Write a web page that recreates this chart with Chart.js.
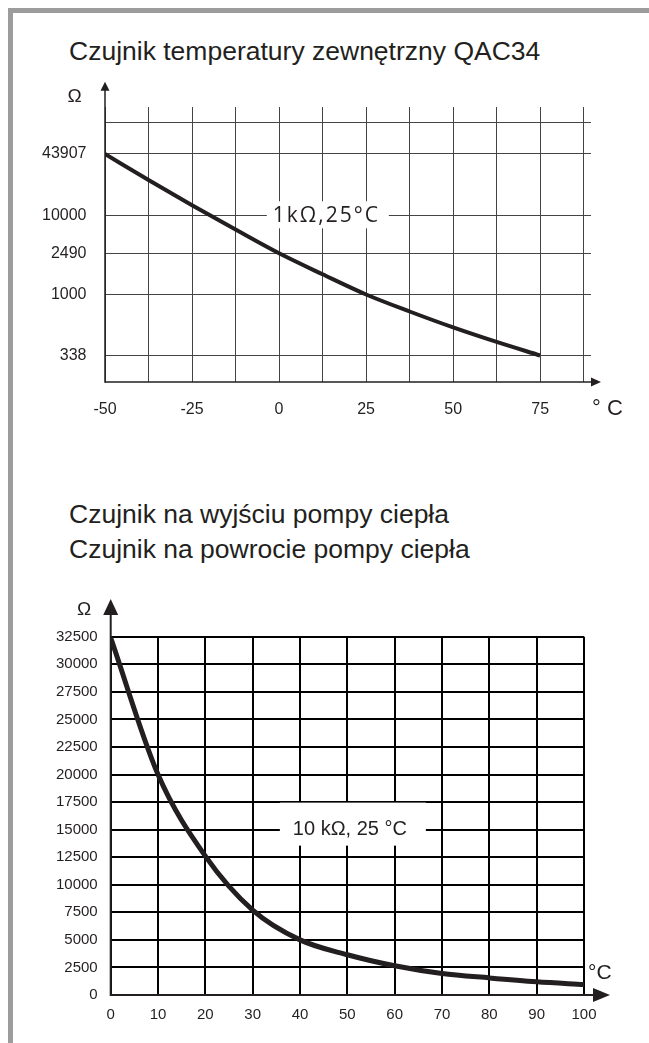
<!DOCTYPE html>
<html lang="pl">
<head>
<meta charset="utf-8">
<title>Charakterystyki czujników</title>
<script src="https://cdn.jsdelivr.net/npm/chart.js@4.4.1/dist/chart.umd.min.js"></script>
<style>
  html, body { margin: 0; padding: 0; background: #fff; }
  #page {
    position: relative; width: 649px; height: 1043px; overflow: hidden; background: #fff;
    font-family: "Liberation Sans", Arial, sans-serif; color: #231f20;
  }
  .frame-top  { position: absolute; left: 8px; top: 8px; width: 641px; height: 5px; background: #9c9c9c; }
  .frame-left { position: absolute; left: 8px; top: 8px; width: 5px; height: 1035px; background: #9c9c9c; }
  .title { position: absolute; left: 69px; font-size: 26.5px; line-height: 1; white-space: nowrap; }
  canvas { position: absolute; left: 0; }
</style>
</head>
<body>
<div id="page">
  <div class="frame-top"></div>
  <div class="frame-left"></div>
  <div class="title" style="top:37.6px">Czujnik temperatury zewnętrzny QAC34</div>
  <div class="title" style="top:501px">Czujnik na wyjściu pompy ciepła</div>
  <div class="title" style="top:535.6px">Czujnik na powrocie pompy ciepła</div>
  <canvas id="outdoor" width="649" height="370" style="top:70px"></canvas>
  <canvas id="flow" width="649" height="453" style="top:590px"></canvas>
</div>
<script>
// Outdoor sensor QAC34 (NTC, 1 kΩ at 25 °C)
const outdoorTemps = [-50, -37.5, -25, -12.5, 0, 12.5, 25, 37.5, 50, 62.5, 75];
const outdoorOhms = [43907, 23450, 12760, 5930, 2490, 1564, 1000, 739, 557, 430, 338];
const outdoorTickOhms = [338, 1000, 2490, 10000, 43907];
const outdoorTickTemps = [-50, -25, 0, 25, 50, 75];

// Flow / return sensors (NTC, 10 kΩ at 25 °C)
const flowTemps = [0, 10, 20, 30, 40, 50, 60, 70, 80, 90, 100];
const flowOhms = [32400, 20000, 12600, 7700, 5000, 3650, 2650, 1950, 1550, 1200, 950];

const ink = '#231f20';
const sans = '"Liberation Sans", Arial, sans-serif';

// Resistance axis whose labelled values sit at fixed heights; values between
// two labels are placed by logarithmic interpolation.
class AnchoredLogScale extends Chart.Scale {
  static id = 'anchoredLog';
  static defaults = {};
  determineDataLimits() {
    const o = this.options;
    this._stops = o.values.map((v, i) => ({ lv: Math.log10(v), at: o.levels[i] }));
    this.min = Math.min(...o.values);
    this.max = Math.max(...o.values);
  }
  buildTicks() {
    const o = this.options;
    const ticks = o.values.map((v, i) => ({ value: v, at: o.levels[i] }));
    (o.extraLevels || []).forEach(at => ticks.push({ value: NaN, at, blank: true }));
    return ticks;
  }
  generateTickLabels(ticks) {
    ticks.forEach(t => { t.label = t.blank ? '' : String(t.value); });
  }
  getPixelForTick(index) {
    const t = this.ticks[index];
    return t ? this.getPixelForDecimal(t.at) : null;
  }
  getPixelForValue(value) {
    const s = this._stops, lv = Math.log10(value);
    let i = 1;
    while (i < s.length - 1 && lv > s[i].lv) i++;
    const a = s[i - 1], b = s[i];
    return this.getPixelForDecimal(a.at + (lv - a.lv) / (b.lv - a.lv) * (b.at - a.at));
  }
  getValueForPixel(pixel) {
    const d = this.getDecimalForPixel(pixel), s = this._stops;
    let i = 1;
    while (i < s.length - 1 && d > s[i].at) i++;
    const a = s[i - 1], b = s[i];
    return Math.pow(10, a.lv + (d - a.at) / (b.at - a.at) * (b.lv - a.lv));
  }
  getLabelForValue(v) { return String(v); }
}
Chart.register(AnchoredLogScale);

// Axis lines with arrow heads, unit captions and the boxed nominal-value note.
const sketchAxes = {
  id: 'sketchAxes',
  beforeDatasetsDraw(chart, args, o) {
    const { ctx, scales } = chart;
    const n = o.note;
    if (!n) return;
    const px = scales.x.getPixelForValue(n.x);
    const py = scales.y.getPixelForValue(n.y);
    ctx.save();
    ctx.fillStyle = '#fff';
    ctx.fillRect(px + n.box[0], py + n.box[1], n.box[2] - n.box[0], n.box[3] - n.box[1]);
    ctx.fillStyle = ink;
    ctx.font = n.font;
    if (n.spacing) ctx.letterSpacing = n.spacing + 'px';
    ctx.textAlign = 'left';
    ctx.textBaseline = 'alphabetic';
    ctx.fillText(n.text, px + n.text0[0], py + n.text0[1]);
    ctx.restore();
  },
  afterDatasetsDraw(chart, args, o) {
    const { ctx, chartArea: a } = chart;
    ctx.save();
    ctx.strokeStyle = ink;
    ctx.fillStyle = ink;
    ctx.lineWidth = o.lineWidth;
    ctx.lineCap = 'butt';
    // vertical axis
    const yTip = a.top - o.yOver;
    ctx.beginPath();
    ctx.moveTo(a.left, a.bottom + o.lineWidth / 2);
    ctx.lineTo(a.left, yTip + o.yHead[0] - 1);
    ctx.stroke();
    ctx.beginPath();
    ctx.moveTo(a.left, yTip);
    ctx.lineTo(a.left - o.yHead[1], yTip + o.yHead[0]);
    ctx.lineTo(a.left + o.yHead[1], yTip + o.yHead[0]);
    ctx.closePath();
    ctx.fill();
    // horizontal axis
    const xTip = a.right + o.xOver;
    ctx.beginPath();
    ctx.moveTo(a.left, a.bottom);
    ctx.lineTo(xTip - o.xHead[0] + 1, a.bottom);
    ctx.stroke();
    ctx.beginPath();
    ctx.moveTo(xTip, a.bottom);
    ctx.lineTo(xTip - o.xHead[0], a.bottom - o.xHead[1]);
    ctx.lineTo(xTip - o.xHead[0], a.bottom + o.xHead[1]);
    ctx.closePath();
    ctx.fill();
    // unit captions
    ctx.textBaseline = 'alphabetic';
    o.units.forEach(u => {
      ctx.font = u.font;
      ctx.textAlign = u.align;
      const x = (u.from === 'right' ? a.right : a.left) + u.dx;
      const y = (u.fromY === 'bottom' ? a.bottom : a.top) + u.dy;
      ctx.fillText(u.text, x, y);
    });
    ctx.restore();
  }
};

function fixedAxis(size, horizontal) {
  return scale => {
    if (horizontal) scale.height = size; else scale.width = size;
    scale.paddingTop = 0; scale.paddingBottom = 0;
    scale.paddingLeft = 0; scale.paddingRight = 0;
  };
}

// ---- QAC34 outdoor sensor ----
new Chart(document.getElementById('outdoor'), {
  type: 'line',
  data: {
    datasets: [{
      data: outdoorTemps.map((t, i) => ({ x: t, y: outdoorOhms[i] })),
      borderColor: ink,
      borderWidth: 4,
      pointRadius: 0,
      cubicInterpolationMode: 'monotone',
      fill: false
    }]
  },
  options: {
    responsive: false,
    animation: false,
    devicePixelRatio: 1,
    events: [],
    layout: { padding: { left: 0, top: 37, right: 58, bottom: 0 } },
    plugins: {
      legend: { display: false },
      tooltip: { enabled: false },
      sketchAxes: {
        lineWidth: 1.5,
        yOver: 25.3, yHead: [9, 4.5],
        xOver: 10, xHead: [10, 4.5],
        units: [
          { text: 'Ω', font: '19px ' + sans, align: 'center', from: 'left', dx: -30.5, fromY: 'top', dy: -5 },
          { text: '° C', font: '22px ' + sans, align: 'left', from: 'right', dx: 1, fromY: 'bottom', dy: 33 }
        ],
        note: {
          x: 14, y: 10000, text: '1kΩ,25°C',
          font: '21px "Open Sans", "Noto Sans", sans-serif', spacing: 2,
          box: [-61, -14, 61, 13], text0: [-55, 6.5]
        }
      }
    },
    scales: {
      x: {
        type: 'linear', min: -50, max: 89.6,
        afterFit: fixedAxis(58, true),
        grid: { color: '#444', lineWidth: 1, drawTicks: false },
        border: { display: false },
        ticks: {
          stepSize: 12.5, includeBounds: false, autoSkip: false, maxRotation: 0,
          padding: 18, color: ink, font: { family: sans, size: 16 },
          callback: v => outdoorTickTemps.includes(v) ? String(v) : ''
        }
      },
      y: {
        type: 'anchoredLog',
        values: outdoorTickOhms,
        levels: [0.0964, 0.3182, 0.468, 0.6062, 0.8291],
        extraLevels: [0.9444],
        afterFit: fixedAxis(105, false),
        grid: { color: '#444', lineWidth: 1, drawTicks: false },
        border: { display: false },
        ticks: { autoSkip: false, padding: 18.5, color: ink, font: { family: sans, size: 16 } }
      }
    }
  },
  plugins: [sketchAxes]
});

// ---- flow / return sensors ----
new Chart(document.getElementById('flow'), {
  type: 'line',
  data: {
    datasets: [{
      data: flowTemps.map((t, i) => ({ x: t, y: flowOhms[i] })),
      borderColor: ink,
      borderWidth: 5,
      pointRadius: 0,
      cubicInterpolationMode: 'monotone',
      fill: false
    }]
  },
  options: {
    responsive: false,
    animation: false,
    devicePixelRatio: 1,
    events: [],
    layout: { padding: { left: 0, top: 46.7, right: 65, bottom: 0 } },
    plugins: {
      legend: { display: false },
      tooltip: { enabled: false },
      sketchAxes: {
        lineWidth: 2,
        yOver: 37.7, yHead: [16, 7.5],
        xOver: 26, xHead: [17, 7],
        units: [
          { text: 'Ω', font: '19px ' + sans, align: 'center', from: 'left', dx: -26.7, fromY: 'top', dy: -22 },
          { text: '°C', font: '21px ' + sans, align: 'left', from: 'right', dx: 4, fromY: 'bottom', dy: -16 }
        ],
        note: {
          x: 50, y: 15000, text: '10 kΩ, 25 °C',
          font: '20px ' + sans, spacing: 0,
          box: [-67.5, -27, 78.5, 16], text0: [-54.5, 5]
        }
      }
    },
    scales: {
      x: {
        type: 'linear', min: 0, max: 100,
        afterFit: fixedAxis(48, true),
        grid: { color: '#000', lineWidth: 2, drawTicks: false },
        border: { display: false },
        ticks: {
          stepSize: 10, autoSkip: false, maxRotation: 0,
          padding: 11, color: ink, font: { family: sans, size: 15 },
          callback: v => String(v)
        }
      },
      y: {
        type: 'linear', min: 0, max: 32500,
        afterFit: fixedAxis(110.7, false),
        grid: { color: '#000', lineWidth: 2, drawTicks: false },
        border: { display: false },
        ticks: {
          stepSize: 2500, autoSkip: false, padding: 13, color: ink,
          font: { family: sans, size: 15 },
          callback: v => String(v)
        }
      }
    }
  },
  plugins: [sketchAxes]
});
</script>
</body>
</html>
